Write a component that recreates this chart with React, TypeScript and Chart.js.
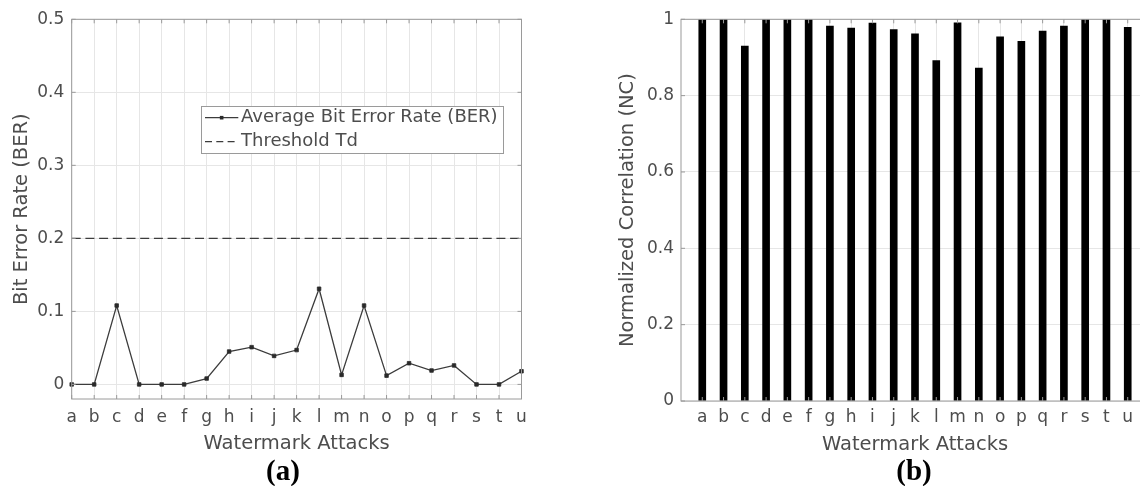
import React, { useEffect, useRef } from "react";
import { Chart, registerables } from "chart.js";

Chart.register(...registerables);

// ---------- data ----------
const categories = ["a", "b", "c", "d", "e", "f", "g", "h", "i", "j", "k", "l", "m", "n", "o", "p", "q", "r", "s", "t", "u"];
const berValues = [0, 0, 0.108, 0, 0, 0, 0.008, 0.045, 0.051, 0.039, 0.047, 0.131, 0.013, 0.108, 0.012, 0.029, 0.019, 0.026, 0, 0, 0.018];
const thresholdTd = 0.2;
const ncValues = [1, 1, 0.93, 1, 1, 1, 0.982, 0.977, 0.99, 0.973, 0.962, 0.892, 0.991, 0.872, 0.954, 0.942, 0.969, 0.982, 1, 1, 0.979];
const berTicks = [0, 0.1, 0.2, 0.3, 0.4, 0.5];
const berTickLabels = ["0", "0.1", "0.2", "0.3", "0.4", "0.5"];
const berRange = [-0.02, 0.5];
const ncTicks = [0, 0.2, 0.4, 0.6, 0.8, 1];
const ncTickLabels = ["0", "0.2", "0.4", "0.6", "0.8", "1"];
const ncRange = [0, 1];
const ncXRange = [0, 22];

// ---------- styles ----------
const FONT = '"DejaVu Sans", sans-serif';
const TEXT = "#4d4d4d";
const FRAME = "#9a9a9a";
const GRID = "#e6e6e6";
const LINE = "#3c3c3c";

const framePlugin = {
  id: "frame",
  afterDatasetsDraw(chart: any) {
    const { ctx, chartArea: a, scales } = chart;
    ctx.save();
    ctx.strokeStyle = FRAME;
    ctx.lineWidth = 1;
    ctx.strokeRect(a.left, a.top, a.right - a.left, a.bottom - a.top);
    const tl = 4;
    ctx.beginPath();
    scales.x.ticks.forEach((_: any, i: number) => {
      const px = scales.x.getPixelForTick(i);
      ctx.moveTo(px, a.bottom);
      ctx.lineTo(px, a.bottom - tl);
      ctx.moveTo(px, a.top);
      ctx.lineTo(px, a.top + tl);
    });
    scales.y.ticks.forEach((_: any, i: number) => {
      const py = scales.y.getPixelForTick(i);
      ctx.moveTo(a.left, py);
      ctx.lineTo(a.left + tl, py);
      ctx.moveTo(a.right, py);
      ctx.lineTo(a.right - tl, py);
    });
    ctx.stroke();
    ctx.restore();
  },
};

const legendPlugin = {
  id: "berLegend",
  afterDatasetsDraw(chart: any) {
    const ctx = chart.ctx;
    const ds = chart.data.datasets;
    const box = { x: 201.5, y: 106.5, w: 302, h: 47 };
    ctx.save();
    ctx.fillStyle = "#ffffff";
    ctx.fillRect(box.x, box.y, box.w, box.h);
    ctx.strokeStyle = FRAME;
    ctx.lineWidth = 1;
    ctx.strokeRect(box.x, box.y, box.w, box.h);
    const rows = [117.7, 141.7];
    const x0 = 205;
    const x1 = 238.3;
    // row 1: solid with marker
    ctx.strokeStyle = LINE;
    ctx.lineWidth = 1.3;
    ctx.beginPath();
    ctx.moveTo(x0, rows[0]);
    ctx.lineTo(x1, rows[0]);
    ctx.stroke();
    ctx.fillStyle = "#2a2a2a";
    ctx.fillRect((x0 + x1) / 2 - 1.8, rows[0] - 1.8, 3.6, 3.6);
    // row 2: dashed
    ctx.setLineDash([7, 4.3]);
    ctx.lineWidth = 1.2;
    ctx.beginPath();
    ctx.moveTo(x0, rows[1]);
    ctx.lineTo(x1, rows[1]);
    ctx.stroke();
    ctx.setLineDash([]);
    ctx.fillStyle = TEXT;
    ctx.font = `18px ${FONT}`;
    ctx.textBaseline = "middle";
    ctx.textAlign = "left";
    ctx.fillText(ds[0].label, 241, rows[0]);
    ctx.fillText(ds[1].label, 241, rows[1]);
    ctx.restore();
  },
};

export default function App() {
  const leftRef = useRef<HTMLCanvasElement>(null);
  const rightRef = useRef<HTMLCanvasElement>(null);

  useEffect(() => {
    const thresholdPoints = [
      { x: categories[0], y: thresholdTd },
      { x: categories[categories.length - 1], y: thresholdTd },
    ];
    const left = new Chart(leftRef.current as HTMLCanvasElement, {
      type: "line",
      data: {
        labels: categories,
        datasets: [
          {
            label: "Average Bit Error Rate (BER)",
            data: berValues,
            borderColor: LINE,
            borderWidth: 1.3,
            pointStyle: "rect",
            pointRadius: 2.5,
            pointBackgroundColor: "#2a2a2a",
            pointBorderColor: "#2a2a2a",
            pointBorderWidth: 0.8,
            tension: 0,
            clip: 6,
          } as any,
          {
            label: "Threshold Td",
            data: thresholdPoints as any,
            borderColor: LINE,
            borderWidth: 1.2,
            borderDash: [9, 4.7],
            pointRadius: 0,
          },
        ],
      },
      options: {
        responsive: false,
        maintainAspectRatio: false,
        animation: false,
        events: [],
        layout: { padding: { left: 0, top: 19.3, right: 38.5, bottom: 0 } },
        plugins: { legend: { display: false }, tooltip: { enabled: false } },
        scales: {
          x: {
            type: "category",
            offset: false,
            grid: { color: GRID, drawTicks: false, offset: false },
            border: { display: false },
            ticks: { color: TEXT, font: { family: FONT, size: 17 }, padding: 8.5, autoSkip: false, maxRotation: 0 },
            title: {
              display: true,
              text: "Watermark Attacks",
              color: TEXT,
              font: { family: FONT, size: 19.5 },
              padding: { top: 0, bottom: 30.3 },
            },
            afterFit: (s: any) => {
              s.height = 87;
            },
          },
          y: {
            type: "linear",
            min: berRange[0],
            max: berRange[1],
            afterBuildTicks: (s: any) => {
              s.ticks = berTicks.map((v) => ({ value: v }));
            },
            grid: { color: GRID, drawTicks: false },
            border: { display: false },
            ticks: {
              color: TEXT,
              font: { family: FONT, size: 17 },
              padding: 7.4,
              callback: (_v: any, i: number) => berTickLabels[i],
            },
            title: {
              display: true,
              text: "Bit Error Rate (BER)",
              color: TEXT,
              font: { family: FONT, size: 19.5 },
              padding: { top: 10.3, bottom: 0 },
            },
            afterFit: (s: any) => {
              s.width = 71.7;
            },
          },
        },
      },
      plugins: [framePlugin, legendPlugin],
    });

    const ncPoints = ncValues.map((v, i) => ({ x: i + 1, y: v }));
    const right = new Chart(rightRef.current as HTMLCanvasElement, {
      type: "bar",
      data: {
        datasets: [
          {
            label: "Normalized Correlation (NC)",
            data: ncPoints as any,
            backgroundColor: "#000000",
            borderWidth: 0,
            barThickness: 7,
          },
        ],
      },
      options: {
        responsive: false,
        maintainAspectRatio: false,
        animation: false,
        events: [],
        layout: { padding: { left: 40, top: 19.3, right: 11, bottom: 0 } },
        plugins: { legend: { display: false }, tooltip: { enabled: false } },
        scales: {
          x: {
            type: "linear",
            min: ncXRange[0],
            max: ncXRange[1],
            offset: false,
            afterBuildTicks: (s: any) => {
              s.ticks = categories.map((_c, i) => ({ value: i + 1 }));
            },
            grid: { color: GRID, drawTicks: false, offset: false },
            border: { display: false },
            ticks: {
              color: TEXT,
              font: { family: FONT, size: 17 },
              padding: 6.5,
              autoSkip: false,
              maxRotation: 0,
              callback: (_v: any, i: number) => categories[i],
            },
            title: {
              display: true,
              text: "Watermark Attacks",
              color: TEXT,
              font: { family: FONT, size: 19.5 },
              padding: { top: 0, bottom: 29.3 },
            },
            afterFit: (s: any) => {
              s.height = 85;
            },
          },
          y: {
            type: "linear",
            min: ncRange[0],
            max: ncRange[1],
            afterBuildTicks: (s: any) => {
              s.ticks = ncTicks.map((v) => ({ value: v }));
            },
            grid: { color: GRID, drawTicks: false },
            border: { display: false },
            ticks: {
              color: TEXT,
              font: { family: FONT, size: 17 },
              padding: 7,
              callback: (_v: any, i: number) => ncTickLabels[i],
            },
            title: {
              display: true,
              text: "Normalized Correlation (NC)",
              color: TEXT,
              font: { family: FONT, size: 19.5 },
              padding: { top: 16.3, bottom: 0 },
            },
            afterFit: (s: any) => {
              s.width = 81;
            },
          },
        },
      },
      plugins: [framePlugin],
    });

    return () => {
      left.destroy();
      right.destroy();
    };
  }, []);

  const caption = (x: number): React.CSSProperties => ({
    position: "absolute",
    left: x,
    top: 470,
    transform: "translate(-50%, -50%)",
    font: 'bold 29px "Liberation Serif", serif',
    color: "#000",
    lineHeight: 1,
    whiteSpace: "nowrap",
  });

  return (
    <div
      style={{
        position: "fixed",
        left: 0,
        top: 0,
        width: 1140,
        height: 486,
        overflow: "hidden",
        background: "#ffffff",
      }}
    >
      <canvas
        ref={leftRef}
        width={560}
        height={486}
        style={{ position: "absolute", left: 0, top: 0, display: "block" }}
      />
      <canvas
        ref={rightRef}
        width={600}
        height={486}
        style={{ position: "absolute", left: 560, top: 0, display: "block" }}
      />
      <div style={caption(283)}>(a)</div>
      <div style={caption(914)}>(b)</div>
    </div>
  );
}
